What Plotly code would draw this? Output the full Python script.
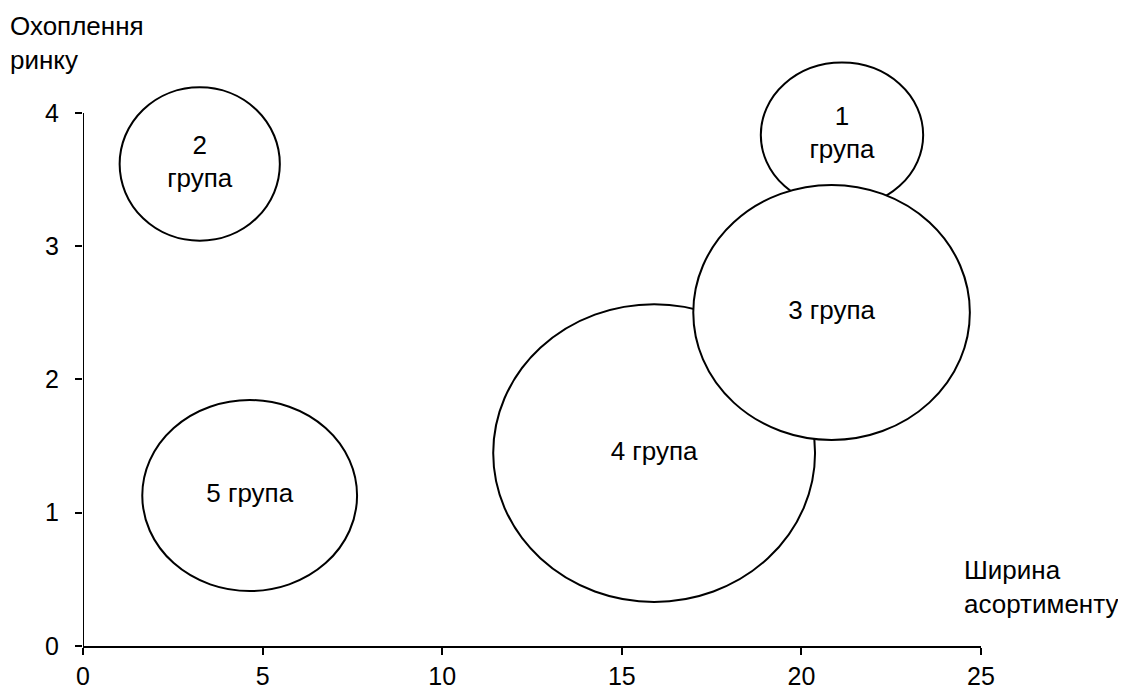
import plotly.graph_objects as go

# Data
groups = ["1<br>група", "2<br>група", "3 група", "4 група", "5 група"]
x_width = [21.13, 3.25, 20.84, 15.90, 4.64]       # Ширина асортименту
y_cover = [3.835, 3.617, 2.503, 1.448, 1.129]     # Охоплення ринку
rx = [2.26, 2.23, 3.85, 4.48, 2.99]               # bubble half-width (x units)
ry = [0.543, 0.576, 0.957, 1.117, 0.717]          # bubble half-height (y units)
draw_order = [0, 1, 4, 3, 2]

x_ticks = [0, 5, 10, 15, 20, 25]
y_ticks = [0, 1, 2, 3, 4]

FONT = "Arial, 'Liberation Sans', sans-serif"
FS_TICK = 25
FS_TEXT = 26

# page body has an 8px margin, so the figure is sized to fit the window
W, H = 1118, 683
L, R, T, B = 75, 145, 45, 45
PW, PH = W - L - R, H - T - B

fig = go.Figure()

shapes = []
# y-axis line only up to 4
shapes.append(dict(type="line", xref="x", yref="y", x0=0, x1=0, y0=0, y1=y_ticks[-1],
                   line=dict(color="black", width=2), layer="below"))
for i in draw_order:
    shapes.append(dict(type="circle", xref="x", yref="y",
                       x0=x_width[i] - rx[i], x1=x_width[i] + rx[i],
                       y0=y_cover[i] - ry[i], y1=y_cover[i] + ry[i],
                       line=dict(color="black", width=2), fillcolor="white",
                       layer="below"))

fig.add_trace(go.Scatter(x=x_width, y=y_cover, mode="text", text=groups,
                         textposition="middle center",
                         textfont=dict(family=FONT, size=FS_TEXT, color="black"),
                         hoverinfo="skip", showlegend=False))

fig.update_layout(
    width=W, height=H,
    margin=dict(l=L, r=R, t=T, b=B),
    paper_bgcolor="white", plot_bgcolor="white",
    shapes=shapes,
    font=dict(family=FONT, size=FS_TICK, color="black"),
    xaxis=dict(range=[0, 25], tickvals=x_ticks, showgrid=False, zeroline=False,
               showline=True, linecolor="black", linewidth=2, automargin=False,
               ticks="outside", ticklen=7, tickwidth=2, tickcolor="black",
               ticklabelstandoff=0,
               tickfont=dict(family=FONT, size=FS_TICK, color="black")),
    yaxis=dict(range=[0, 4.45], tickvals=y_ticks, showgrid=False, zeroline=False,
               showline=False, automargin=False,
               ticks="outside", ticklen=7, tickwidth=2, tickcolor="black",
               ticklabelstandoff=11,
               tickfont=dict(family=FONT, size=FS_TICK, color="black")),
    annotations=[
        dict(text="Охоплення<br>ринку", xref="paper", yref="paper",
             x=(0 - L) / PW, y=1 + (T - 1) / PH, xanchor="left", yanchor="top",
             align="left", showarrow=False, font=dict(family=FONT, size=FS_TEXT, color="black")),
        dict(text="Ширина<br>асортименту", xref="paper", yref="paper",
             x=(954 - L) / PW, y=(H - B - 545) / PH, xanchor="left", yanchor="top",
             align="left", showarrow=False, font=dict(family=FONT, size=FS_TEXT, color="black")),
    ],
)

fig.write_html("out.html")
